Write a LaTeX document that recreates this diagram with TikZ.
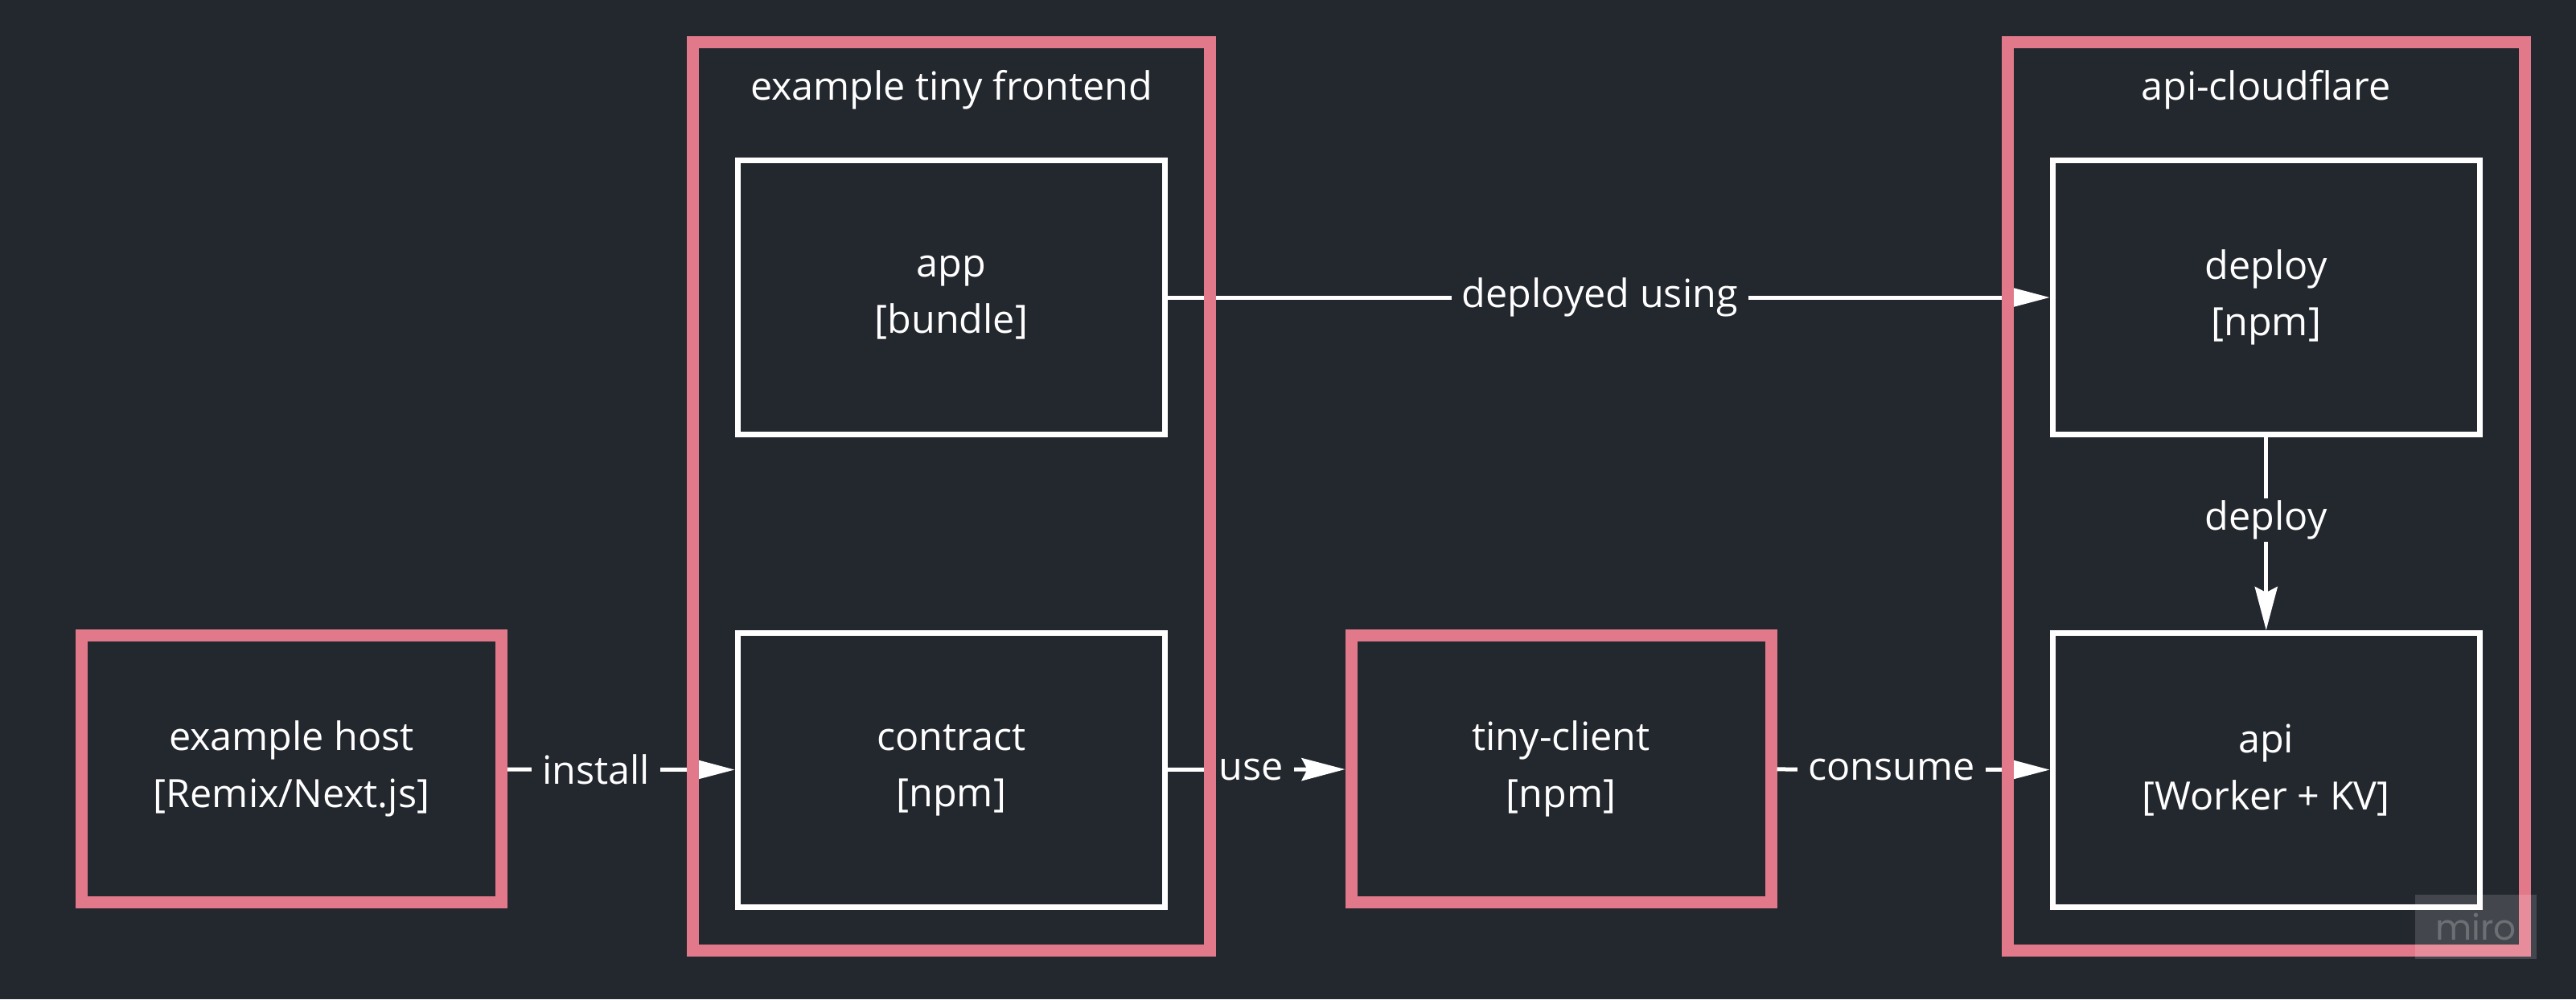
\documentclass[tikz,border=0pt]{standalone}
\usepackage{fontspec}
\setmainfont{Open Sans}
\newfontfamily\logofont{Poppins}
\usetikzlibrary{arrows.meta}
\definecolor{boardbg}{HTML}{23272E}
\definecolor{miropink}{HTML}{E2798A}
\tikzset{
    whitebox/.style={draw=white, line width=0.07cm, inner sep=0,
        minimum width=5.315cm, minimum height=3.41cm},
    pinkbox/.style={draw=miropink, line width=0.15cm, inner sep=0,
        minimum width=5.22cm, minimum height=3.32cm},
    groupbox/.style={draw=miropink, line width=0.15cm, inner sep=0,
        minimum width=6.43cm, minimum height=11.305cm},
    edgelabel/.style={fill=boardbg, inner xsep=0.13cm, inner ysep=0.03cm},
    connector/.style={white, line width=0.05cm,
        -{Stealth[length=0.54cm, width=0.28cm, inset=0.07cm]}}
}
\begin{document}
\begin{tikzpicture}[every node/.style={text=white, align=center,
        font=\fontsize{13.8}{20}\selectfont}]
                \fill[boardbg] (0,0) rectangle (32.03,-12.43);
                \useasboundingbox (0,0) rectangle (32.03,-12.43);
                % boxes
                \node[pinkbox] (host) at (3.625,-9.565) {example host\\ {[Remix/Next.js]}};
                \node[whitebox] (app) at (11.8275,-3.70) {app\\ {[bundle]}};
                \node[whitebox] (contract) at (11.8275,-9.58) {contract\\ {[npm]}};
                \node[pinkbox] (client) at (19.41,-9.565) {tiny-client\\ {[npm]}};
                \node[whitebox] (deploy) at (28.1775,-3.70) {deploy\\ {[npm]}};
                \node[whitebox] (api) at (28.1775,-9.58) {api\\ {[Worker + KV]}};
                % connectors
                \draw[connector] (host) -- (contract)
                    node [pos=0.39, edgelabel] {install};
                \draw[connector] (contract) -- (client)
                    node [pos=0.47, edgelabel] {use};
                \draw[connector] (client) -- (api)
                    node [pos=0.42, edgelabel] {consume};
                \draw[connector] (app) -- (deploy)
                    node [pos=0.49, edgelabel] {deployed using};
                \draw[connector] (deploy) -- (api)
                    node [pos=0.43, edgelabel] {deploy};
                % groups
                \node[groupbox] (frontend) at (11.83,-6.1725) {};
                \node[] (frontendtitle) at (11.83,-1.12) {example tiny frontend};
                \node[groupbox] (cloudflare) at (28.175,-6.1725) {};
                \node[] (cloudflaretitle) at (28.175,-1.12) {api-cloudflare};
                % watermark
                \node[fill=white, fill opacity=0.15, text opacity=0.22,
                    minimum width=1.51cm, minimum height=0.8cm, inner sep=0,
                    font=\logofont\fontsize{12.5}{14}\selectfont] (miro) at (30.785,-11.53) {miro};
            \end{tikzpicture}
\end{document}
